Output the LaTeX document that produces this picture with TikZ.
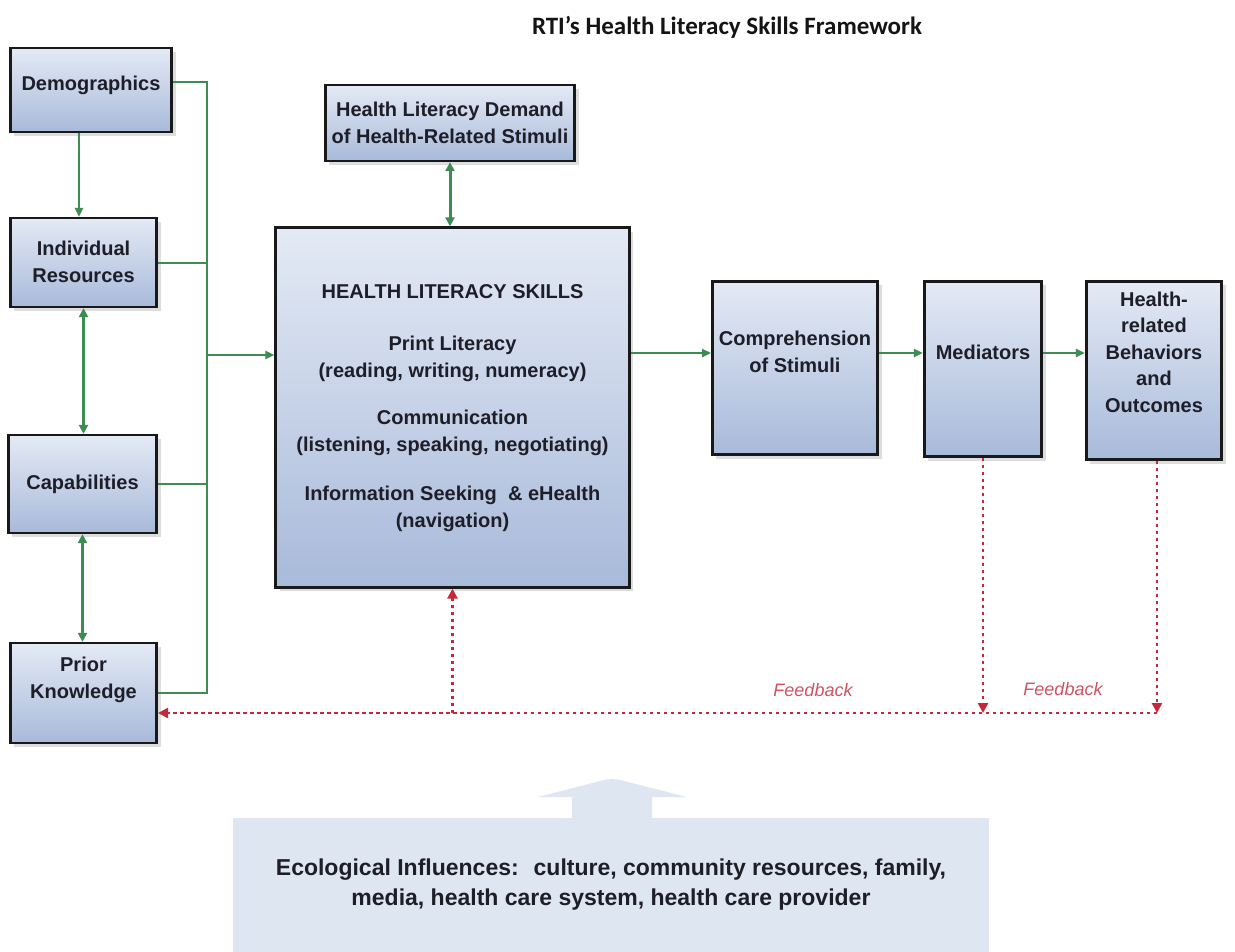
\documentclass[tikz,border=0pt]{standalone}
\usepackage{fontspec}
\setmainfont{Liberation Sans}
\newfontfamily\titlefont{Carlito}
\usetikzlibrary{arrows.meta,shadows}
\definecolor{boxtop}{RGB}{228,234,245}
\definecolor{boxbot}{RGB}{168,186,218}
\definecolor{lgreen}{RGB}{62,140,82}
\definecolor{fbred}{RGB}{196,40,58}
\definecolor{ecofill}{RGB}{222,230,242}
\definecolor{txt}{RGB}{30,30,40}
\tikzset{
 box/.style={draw=black!90, line width=2.6bp, top color=boxtop, bottom color=boxbot,
   drop shadow={shadow xshift=4bp, shadow yshift=-4bp, opacity=0.22, fill=black!60}, inner sep=0},
 lbl/.style={font=\fontsize{20bp}{26.5bp}\selectfont\bfseries, text=txt, align=center, inner sep=0},
 gline/.style={draw=lgreen, line width=2bp},
 garrow/.style={draw=lgreen, line width=2.6bp, -{Triangle[length=9bp,width=8bp]}},
 gdarrow/.style={draw=lgreen, line width=3bp, {Triangle[length=9bp,width=9bp]}-{Triangle[length=9bp,width=9bp]}},
 fb/.style={draw=fbred, line width=2.8bp, dash pattern=on 3.5bp off 3.5bp, -{Triangle[length=10bp,width=10bp]}},
 fblbl/.style={font=\fontsize{18bp}{20bp}\selectfont\itshape, text=fbred!80, inner sep=0},
}
\begin{document}
\begin{tikzpicture}[x=1bp,y=-1bp]
\useasboundingbox (0,0) rectangle (1235,952);
\fill[white] (0,0) rectangle (1235,952);

% title
\node[anchor=base, inner sep=0, text=black!92, font=\titlefont\bfseries\fontsize{25bp}{30bp}\selectfont] (title) at (727,34) {RTI’s Health Literacy Skills Framework};

% boxes
\node[box, minimum width=162, minimum height=84] (demo) at (91,90) {};
\node[box, minimum width=147, minimum height=89] (indiv) at (83.5,262.5) {};
\node[box, minimum width=149, minimum height=98] (cap) at (82.5,484) {};
\node[box, minimum width=147, minimum height=100] (prior) at (83.5,693) {};
\node[box, minimum width=250, minimum height=76] (demand) at (450,123) {};
\node[box, minimum width=355, minimum height=361] (hls) at (452.5,407.5) {};
\node[box, minimum width=166, minimum height=174] (comp) at (795,368) {};
\node[box, minimum width=118, minimum height=176] (med) at (983,369) {};
\node[box, minimum width=136, minimum height=179] (hrb) at (1154,370.5) {};

% labels
\node[lbl] (demoT) at (91,85) {Demographics};
\node[lbl] (indivT) at (83.5,262) {Individual\\Resources};
\node[lbl] (capT) at (82.5,484) {Capabilities};
\node[lbl] (priorT) at (83.5,680) {Prior\\Knowledge};
\node[lbl] (demandT) at (450,123) {Health Literacy Demand\\of Health-Related Stimuli};
\node[lbl] (hlsT) at (452.5,408) {HEALTH LITERACY SKILLS\\[26bp]Print Literacy\\(reading, writing, numeracy)\\[21bp]Communication\\(listening, speaking, negotiating)\\[23bp]Information Seeking \ \& eHealth\\(navigation)};
\node[lbl] (compT) at (795,352) {Comprehension\\of Stimuli};
\node[lbl] (medT) at (983,352) {Mediators};
\node[lbl] (hrbT) at (1154,352) {Health-\\related\\Behaviors\\and\\Outcomes};

% green connectors
\coordinate (bT) at (207,82);
\coordinate (bIn) at (207,355);
\coordinate (aY) at (0,353);
\coordinate (dX) at (79,0);
\draw[gline] (demo.east |- bT) -- (bT) -- (bT |- prior.east) -- (prior.east);
\draw[gline] (indiv.east) -- (indiv.east -| bT);
\draw[gline] (cap.east) -- (cap.east -| bT);
\draw[garrow] (bIn) -- (hls.west |- bIn);
\draw[garrow] (demo.south -| dX) -- (indiv.north -| dX);
\draw[gdarrow] (indiv.south) -- (indiv.south |- cap.north);
\draw[gdarrow] (cap.south) -- (cap.south |- prior.north);
\draw[gdarrow] (demand.south) -- (demand.south |- hls.north);
\draw[garrow] (hls.east |- aY) -- (comp.west |- aY);
\draw[garrow] (comp.east |- aY) -- (med.west |- aY);
\draw[garrow] (med.east |- aY) -- (hrb.west |- aY);

% feedback
\coordinate (fbR) at (1157,713);
\draw[fb] (hrb.south -| fbR) -- (fbR);
\draw[fb] (med.south) -- (med.south |- fbR);
\draw[fb] (fbR) -- (prior.east |- fbR);
\draw[fb] (hls.south |- fbR) -- (hls.south);
\node[fblbl] (fb1) at (813,690) {Feedback};
\node[fblbl] (fb2) at (1063,689) {Feedback};

% ecological influences
\fill[ecofill] (572,819) -- (572,797) -- (538,797) [rounded corners=8bp] -- (612,778) [sharp corners] -- (687,797) -- (652,797) -- (652,819) -- cycle;
\node[fill=ecofill, minimum width=758, minimum height=134, inner sep=0] (eco) at (611,885) {};
\node[lbl, font=\fontsize{23bp}{30bp}\selectfont\bfseries] (ecoT) at (611,885) {Ecological Influences: \ culture, community resources, family,\\media, health care system, health care provider};
\end{tikzpicture}
\end{document}
